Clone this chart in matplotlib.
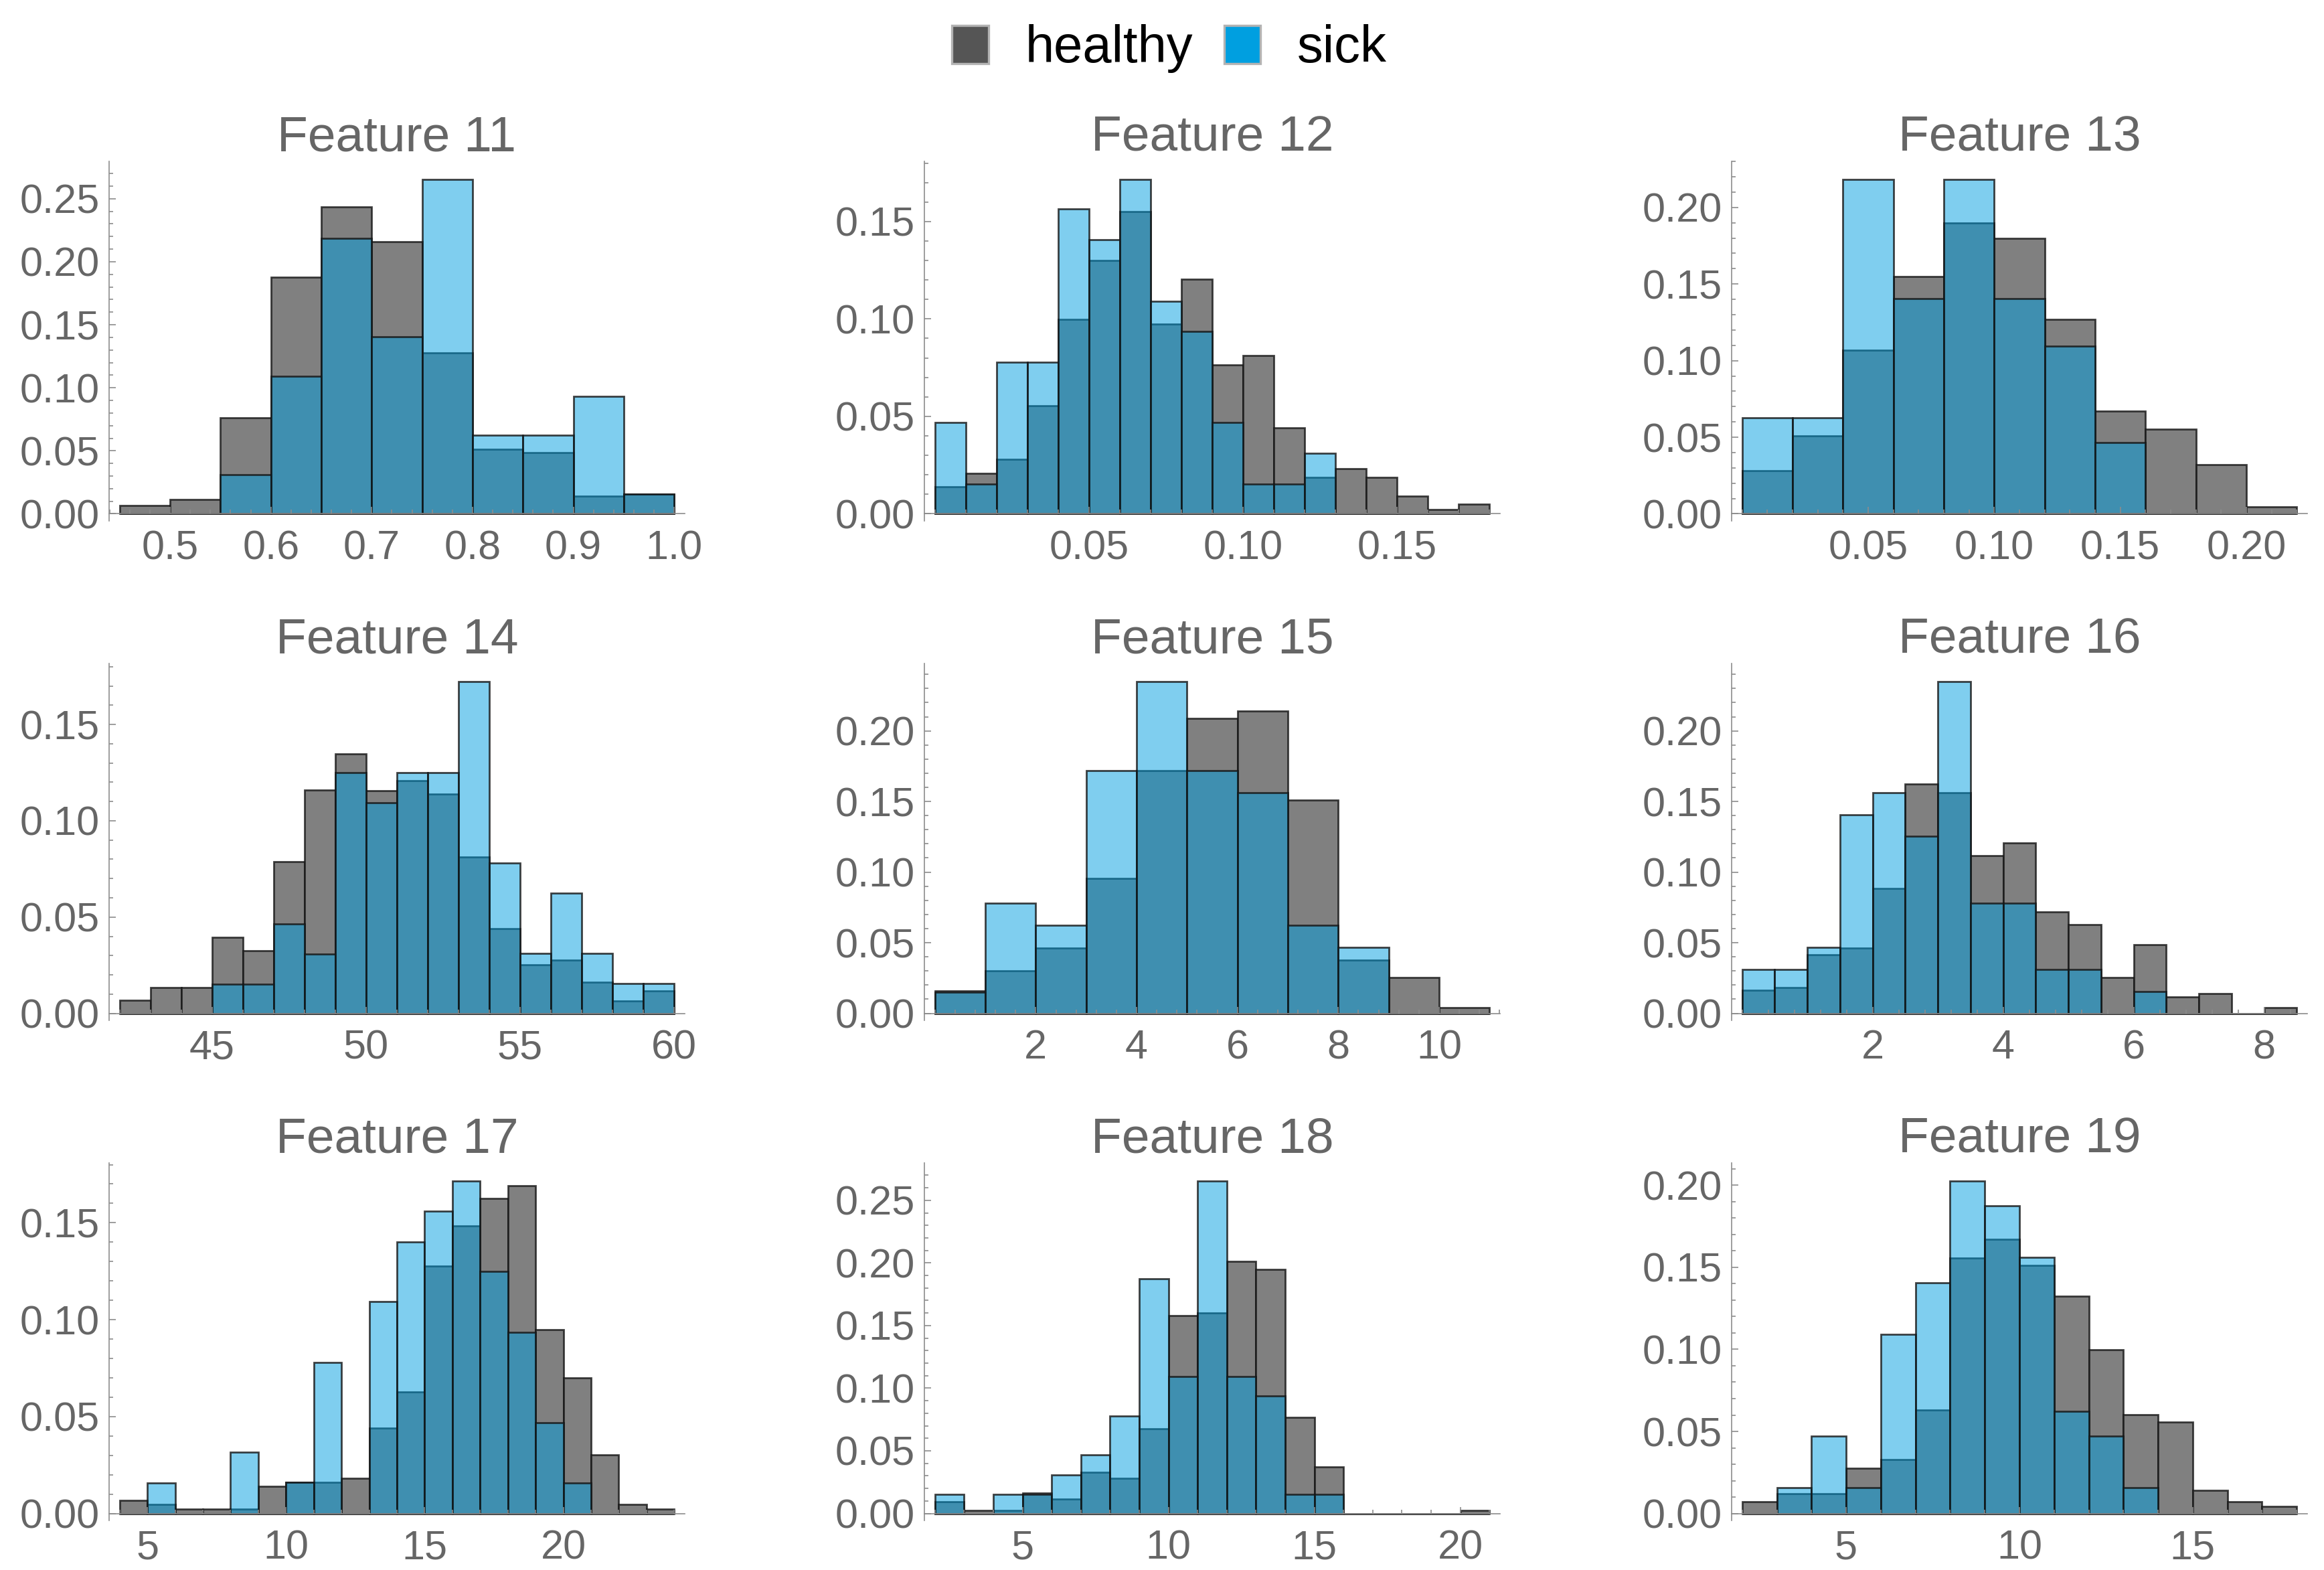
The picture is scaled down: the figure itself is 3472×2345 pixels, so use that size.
import numpy as np
import matplotlib.pyplot as plt
from matplotlib.patches import Patch
from matplotlib.ticker import MultipleLocator, AutoMinorLocator, FormatStrFormatter

plt.rcParams['font.family'] = ['Liberation Sans', 'DejaVu Sans']

# histogram data: bin start, bin width, heights per bin
f11_start, f11_width = 0.45, 0.05
f11_healthy = [0.0068, 0.0113, 0.0764, 0.1878, 0.2433, 0.2161, 0.1277, 0.0515, 0.0488, 0.0143, 0.0159]
f11_sick = [0, 0, 0.0311, 0.1090, 0.2188, 0.1406, 0.2653, 0.0624, 0.0624, 0.0934, 0.0156]

f12_start, f12_width = 0.0, 0.01
f12_healthy = [0.0139, 0.0208, 0.0279, 0.0556, 0.0999, 0.1300, 0.1550, 0.0975, 0.1204, 0.0765,
               0.0811, 0.0441, 0.0188, 0.0232, 0.0186, 0.0092, 0.0022, 0.0048]
f12_sick = [0.0469, 0.0154, 0.0779, 0.0779, 0.1565, 0.1406, 0.1716, 0.1090, 0.0935, 0.0469,
            0.0154, 0.0154, 0.0312, 0, 0, 0, 0, 0]

f13_start, f13_width = 0.0, 0.02
f13_healthy = [0.0280, 0.0507, 0.1067, 0.1550, 0.1900, 0.1800, 0.1270, 0.0670, 0.0554, 0.0323, 0.0045]
f13_sick = [0.0625, 0.0625, 0.2183, 0.1403, 0.2183, 0.1403, 0.1093, 0.0466, 0, 0, 0]

f14_start, f14_width = 42, 1
f14_healthy = [0.0068, 0.0134, 0.0134, 0.0394, 0.0324, 0.0788, 0.1159, 0.1347, 0.1157, 0.1209,
               0.1140, 0.0812, 0.0440, 0.0254, 0.0275, 0.0162, 0.0066, 0.0118]
f14_sick = [0, 0, 0, 0.0151, 0.0151, 0.0466, 0.0309, 0.1250, 0.1093, 0.1250,
            0.1250, 0.1724, 0.0782, 0.0310, 0.0625, 0.0310, 0.0154, 0.0154]

f15_start, f15_width = 0, 1
f15_healthy = [0.0160, 0.0303, 0.0463, 0.0955, 0.1720, 0.2090, 0.2140, 0.1510, 0.0375, 0.0253, 0.0042]
f15_sick = [0.0150, 0.0780, 0.0622, 0.1720, 0.2350, 0.1720, 0.1564, 0.0622, 0.0465, 0, 0]

f16_start, f16_width = 0, 0.5
f16_healthy = [0.0164, 0.0185, 0.0415, 0.0461, 0.0882, 0.1624, 0.1560, 0.1115, 0.1207, 0.0720,
               0.0626, 0.0253, 0.0487, 0.0114, 0.0140, 0, 0.0042]
f16_sick = [0.0311, 0.0311, 0.0465, 0.1408, 0.1564, 0.1255, 0.2350, 0.0782, 0.0782, 0.0311,
            0.0311, 0, 0.0156, 0, 0, 0, 0]

f17_start, f17_width = 4, 1
f17_healthy = [0.0069, 0.0046, 0.0021, 0.0021, 0.0021, 0.0140, 0.0160, 0.0160, 0.0183, 0.0440,
               0.0627, 0.1275, 0.1483, 0.1625, 0.1690, 0.0950, 0.0699, 0.0301, 0.0046, 0.0021]
f17_sick = [0, 0.0158, 0, 0, 0.0315, 0, 0.0160, 0.0780, 0, 0.1093,
            0.1400, 0.1560, 0.1716, 0.1250, 0.0936, 0.0467, 0.0158, 0, 0, 0]

f18_start, f18_width = 2, 1
f18_healthy = [0.0095, 0.0022, 0.0022, 0.0165, 0.0113, 0.0328, 0.0279, 0.0676, 0.1578, 0.1602,
               0.2012, 0.1950, 0.0765, 0.0370, 0, 0, 0, 0, 0.0022]
f18_sick = [0.0155, 0, 0.0155, 0.0155, 0.0310, 0.0468, 0.0780, 0.1873, 0.1093, 0.2655,
            0.1093, 0.0937, 0.0155, 0.0155, 0, 0, 0, 0, 0]

f19_start, f19_width = 2, 1
f19_healthy = [0.0071, 0.0119, 0.0119, 0.0276, 0.0327, 0.0629, 0.1556, 0.1671, 0.1512, 0.1324,
               0.0997, 0.0602, 0.0556, 0.0139, 0.0071, 0.0044]
f19_sick = [0, 0.0158, 0.0470, 0.0158, 0.1093, 0.1407, 0.2027, 0.1876, 0.1560, 0.0624,
            0.0470, 0.0158, 0, 0, 0, 0]

titles = ['Feature 11', 'Feature 12', 'Feature 13', 'Feature 14', 'Feature 15',
          'Feature 16', 'Feature 17', 'Feature 18', 'Feature 19']
xticks = [[0.5, 0.6, 0.7, 0.8, 0.9, 1.0], [0.05, 0.10, 0.15], [0.05, 0.10, 0.15, 0.20],
          [45, 50, 55, 60], [2, 4, 6, 8, 10], [2, 4, 6, 8],
          [5, 10, 15, 20], [5, 10, 15, 20], [5, 10, 15]]
xfmts = ['%.1f', '%.2f', '%.2f', '%d', '%d', '%d', '%d', '%d', '%d']

panels = [
    (f11_start, f11_width, f11_healthy, f11_sick),
    (f12_start, f12_width, f12_healthy, f12_sick),
    (f13_start, f13_width, f13_healthy, f13_sick),
    (f14_start, f14_width, f14_healthy, f14_sick),
    (f15_start, f15_width, f15_healthy, f15_sick),
    (f16_start, f16_width, f16_healthy, f16_sick),
    (f17_start, f17_width, f17_healthy, f17_sick),
    (f18_start, f18_width, f18_healthy, f18_sick),
    (f19_start, f19_width, f19_healthy, f19_sick),
]

W, H = 3473, 2345
fig = plt.figure(figsize=(W / 200, H / 200), dpi=200)

col_left = [163, 1381, 2587]
ax_w = 860
row_top = [241, 991, 1737]
row_bot = [778, 1524, 2271]

axis_col = '#8c8c8c'
text_col = '#666666'
edge = (0.08, 0.08, 0.08, 0.8)

for i, (start, width, healthy, sick) in enumerate(panels):
    r, c = divmod(i, 3)
    ax = fig.add_axes([col_left[c] / W, 1 - row_bot[r] / H, ax_w / W, (row_bot[r] - row_top[r]) / H])
    n = len(healthy)
    lefts = start + width * np.arange(n)
    ax.bar(lefts, healthy, width=width, align='edge', facecolor='#808080',
           edgecolor=edge, linewidth=1.0)
    ax.bar(lefts, sick, width=width, align='edge', facecolor=(0.0, 0.624, 0.878, 0.5),
           edgecolor=edge, linewidth=1.0)

    lo, hi = start, start + width * n
    pad = 0.019 * (hi - lo)
    ax.set_xlim(lo - pad, hi + pad)
    top = 1.054 * max(max(healthy), max(sick))
    ax.set_ylim(-0.02 * top, top)

    for s in ['top', 'right']:
        ax.spines[s].set_visible(False)
    ax.spines['bottom'].set_position(('data', 0))
    for s in ['left', 'bottom']:
        ax.spines[s].set_color(axis_col)
        ax.spines[s].set_linewidth(0.6)

    ax.set_xticks(xticks[i])
    ax.xaxis.set_major_formatter(FormatStrFormatter(xfmts[i]))
    ax.xaxis.set_minor_locator(AutoMinorLocator(5))
    ax.yaxis.set_major_locator(MultipleLocator(0.05))
    ax.yaxis.set_major_formatter(FormatStrFormatter('%.2f'))
    ax.yaxis.set_minor_locator(AutoMinorLocator(5))

    ax.tick_params(which='both', direction='in', color=axis_col, width=0.6)
    ax.tick_params(which='major', length=3.5)
    ax.tick_params(which='minor', length=2)
    ax.tick_params(axis='x', which='major', pad=8.5, labelsize=22, labelcolor=text_col)
    ax.tick_params(axis='y', which='major', pad=5, labelsize=22, labelcolor=text_col)

    ax.set_title(titles[i], fontsize=27, color=text_col, pad=5)

handles = [Patch(facecolor='#555555', edgecolor='#b3b3b3', linewidth=1.2, label='healthy'),
           Patch(facecolor='#009fe0', edgecolor='#b3b3b3', linewidth=1.2, label='sick')]
fig.legend(handles=handles, loc='center', bbox_to_anchor=(0.503, 0.969), ncol=2,
           frameon=False, fontsize=28, handlelength=0.7, handleheight=0.75,
           handletextpad=0.7, columnspacing=0.6)

fig.savefig('out.png', dpi=200)
